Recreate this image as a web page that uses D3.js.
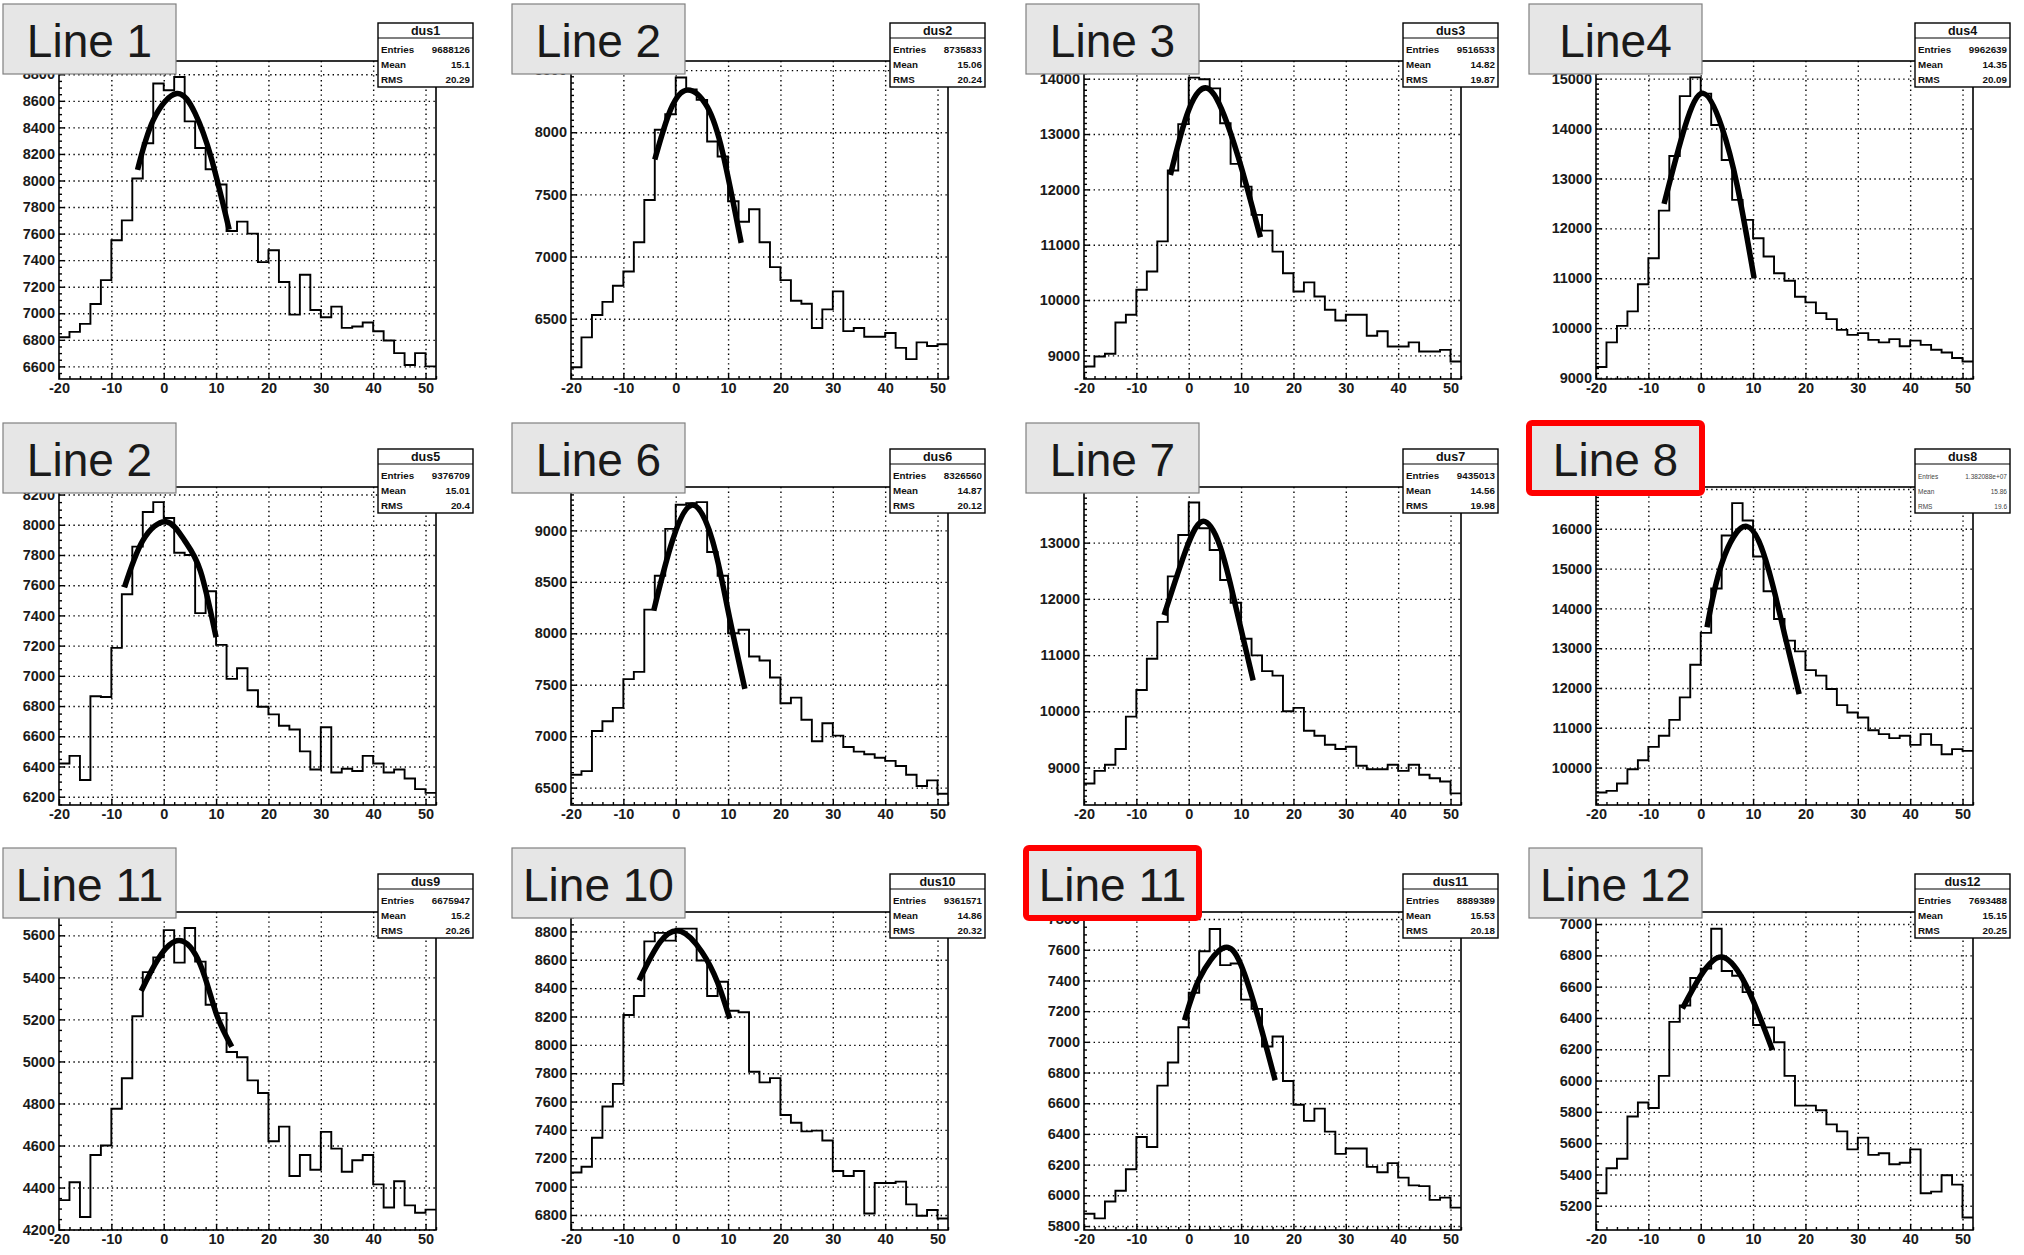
<!DOCTYPE html>
<html lang="en">
<head>
<meta charset="utf-8">
<title>dus histograms</title>
<script src="https://d3js.org/d3.v7.min.js"></script>
<style>
  body { margin: 0; background: #fff; }
  svg { display: block; font-family: "Liberation Sans", Arial, Helvetica, sans-serif; }
  .frame { fill: none; stroke: #000; stroke-width: 1.6; }
  .grid line { stroke: #000; stroke-width: 1.4; stroke-dasharray: 1.4 3.4; }
  .grid .domain { display: none; }
  .axis .domain { display: none; }
  .axis line { stroke: #000; stroke-width: 1.4; }
  .axis text { font-size: 14.5px; font-weight: bold; fill: #1a1a1a; }
  .hist { fill: none; stroke: #000; stroke-width: 1.9; }
  .fit { fill: none; stroke: #000; stroke-width: 5.5; stroke-linecap: butt; }
  .stats rect { fill: #fff; stroke: #000; stroke-width: 1.4; }
  .stats line { stroke: #000; stroke-width: 1.2; }
  .stats .ttl { font-size: 12.5px; font-weight: bold; fill: #111; }
  .stats .row { font-size: 9.8px; font-weight: bold; fill: #111; }
  .stats.faint .row { font-size: 6.5px; font-weight: normal; fill: #444; }
  .lbl rect { fill: #e6e6e6; stroke: #808080; stroke-width: 1.2; }
  .lbl.hot rect { stroke: #ff0000; stroke-width: 6; }
  .lbl text { font-size: 46px; fill: #1a1a1a; text-anchor: middle; }
</style>
</head>
<body>
<script>
// left edge of each 2-unit bin
var binLow = [-20,-18,-16,-14,-12,-10,-8,-6,-4,-2,0,2,4,6,8,10,12,14,16,18,20,22,24,26,28,30,32,34,36,38,40,42,44,46,48,50];

// bin contents
var dus1 = [6820,6860,6920,7070,7250,7550,7700,8015,8280,8730,8680,8780,8445,8245,8085,7970,7620,7690,7600,7385,7475,7235,6990,7290,7025,6970,7050,6890,6900,6930,6865,6795,6700,6610,6700,6600];
var dus2 = [6110,6350,6530,6635,6765,6880,7115,7455,8020,8145,8440,8345,8260,7925,7805,7445,7280,7380,7115,6915,6810,6645,6620,6425,6575,6720,6400,6425,6355,6355,6385,6265,6175,6310,6280,6295];
var dus3 = [8800,8980,9030,9595,9735,10185,10515,11060,12340,13180,14020,13990,13825,13195,12460,12050,11540,11255,10875,10485,10155,10320,10065,9825,9630,9735,9735,9355,9435,9160,9160,9235,9070,9070,9100,8890];
var dus4 = [9220,9715,10045,10335,10880,11400,12355,13450,14650,15025,14700,14070,13370,12570,12170,11800,11435,11100,10950,10630,10515,10300,10180,9965,9865,9900,9765,9715,9780,9635,9750,9665,9565,9510,9400,9330];
var dus5 = [6420,6470,6310,6865,6860,7185,7540,7855,8085,8150,8045,7815,7800,7415,7560,7205,6980,7050,6905,6795,6745,6670,6645,6500,6380,6660,6360,6385,6370,6470,6420,6360,6380,6320,6250,6225];
var dus6 = [6625,6660,7050,7145,7275,7555,7625,8230,8560,9015,9250,9265,9275,8790,8560,8000,8035,7775,7735,7570,7320,7375,7160,6950,7125,7005,6895,6850,6825,6790,6760,6710,6625,6515,6570,6440];
var dus7 = [8715,8940,9050,9330,9905,10380,10935,11590,12400,13135,13715,13255,12870,12335,11930,11290,10995,10715,10635,10000,10060,9655,9565,9405,9330,9370,9030,8970,8970,9050,8940,9050,8870,8810,8750,8540];
var dus8 = [9375,9415,9600,9960,10185,10520,10800,11200,11765,12585,13385,14500,15830,16645,16210,15305,14430,13735,13190,12920,12450,12310,11975,11570,11385,11260,10940,10840,10740,10800,10570,10840,10570,10335,10465,10420];
var dus9 = [4340,4425,4260,4555,4600,4775,4920,5215,5425,5495,5625,5470,5635,5475,5270,5230,5045,5020,4910,4850,4620,4690,4455,4555,4485,4665,4585,4475,4530,4555,4415,4305,4430,4315,4280,4295];
var dus10 = [7100,7140,7345,7565,7725,8210,8345,8730,8790,8735,8820,8820,8595,8345,8445,8240,8230,7810,7735,7765,7505,7450,7390,7395,7325,7110,7075,7110,6810,7025,7025,7035,6875,6795,6835,6775];
var dus11 = [5880,5850,5960,6030,6170,6380,6315,6715,6865,7095,7320,7590,7735,7500,7510,7275,7215,6970,7035,6745,6590,6485,6565,6415,6270,6305,6305,6185,6150,6210,6115,6065,6060,5970,5985,5920];
var dus12 = [5280,5440,5500,5770,5860,5825,6030,6375,6480,6655,6715,6970,6700,6670,6565,6355,6340,6245,6030,5840,5840,5810,5720,5675,5560,5635,5525,5535,5465,5475,5560,5280,5290,5395,5335,5125];

// points [x, count]
var fit1 = [[-5,8080],[-2,8455],[2.5,8655],[6,8505],[9,8180],[12.5,7630]];
var fit2 = [[-4,7780],[-1,8180],[2.3,8340],[6,8205],[9,7830],[12.5,7110]];
var fit3 = [[-3.5,12260],[0,13435],[4,13805],[8,13015],[11,12080],[13.7,11135]];
var fit4 = [[-7,12490],[-3,14040],[0.5,14705],[4,14040],[7,12840],[10.2,11000]];
var fit5 = [[-7.5,7585],[-4,7895],[0.5,8020],[4,7895],[7,7695],[10,7255]];
var fit6 = [[-4.2,8220],[-1,8840],[3,9245],[7,8905],[10,8220],[13.2,7460]];
var fit7 = [[-4.7,11710],[-1,12750],[2.5,13375],[6,12930],[9,11855],[12.3,10550]];
var fit8 = [[1.2,13525],[4,15120],[8.8,16060],[13,14950],[16,13355],[18.8,11845]];
var fit9 = [[-4.3,5335],[-1,5490],[3,5575],[7,5460],[10,5230],[13,5070]];
var fit10 = [[-7,8455],[-3,8725],[1,8800],[5,8655],[8,8440],[10.3,8185]];
var fit11 = [[-0.8,7140],[2,7410],[6.5,7610],[10,7500],[13.5,7130],[16.5,6750]];
var fit12 = [[-3.5,6460],[0,6670],[4,6790],[8,6650],[11,6430],[13.7,6195]];

// y axis ranges and label steps
var yLo = [6505,6015,8573,8980,6145,6331,8333,9060,4198,6694,5774,5045];
var yHi = [8900,8573,14320,15354,8250,9422,13990,17050,5711,8937,7846,7077];
var yStep = [200,500,1000,1000,200,500,1000,1000,200,200,200,200];

// titles and stat boxes
var titles = ["Line 1","Line 2","Line 3","Line4","Line 2","Line 6","Line 7","Line 8","Line 11","Line 10","Line 11","Line 12"];
var marked = [false,false,false,false,false,false,false,true,false,false,true,false];
var statName = ["dus1","dus2","dus3","dus4","dus5","dus6","dus7","dus8","dus9","dus10","dus11","dus12"];
var entries = ["9688126","8735833","9516533","9962639","9376709","8326560","9435013","1.382088e+07","6675947","9361571","8889389","7693488"];
var means = ["15.1","15.06","14.82","14.35","15.01","14.87","14.56","15.86","15.2","14.86","15.53","15.15"];
var rmsVals = ["20.29","20.24","19.87","20.09","20.4","20.12","19.98","19.6","20.26","20.32","20.18","20.25"];
var xLabels = [-20,-10,0,10,20,30,40,50];

var counts = [dus1,dus2,dus3,dus4,dus5,dus6,dus7,dus8,dus9,dus10,dus11,dus12];
var fits = [fit1,fit2,fit3,fit4,fit5,fit6,fit7,fit8,fit9,fit10,fit11,fit12];

var W = 377, H = 318;
var colX = [59, 571, 1084, 1596], rowY = [61, 487, 912];
var boxX = [3, 512, 1026, 1529], boxY = [4, 423, 848];

var svg = d3.select("body").append("svg")
    .attr("width", 2024)
    .attr("height", 1255);

var x = d3.scaleLinear().domain([-20, 52]).range([0, W]);
var xMinor = binLow.filter(function(b) { return b % 10 !== 0; }).concat([52]);

counts.forEach(function(vals, i) {
  var c = i % 4, r = Math.floor(i / 4);
  var y = d3.scaleLinear().domain([yLo[i], yHi[i]]).range([H, 0]);
  var step = yStep[i], minStep = step === 200 ? 50 : step / 10;
  var yMajor = d3.range(Math.ceil(yLo[i] / step) * step, yHi[i], step);
  var yMinor = d3.range(Math.ceil(yLo[i] / minStep) * minStep, yHi[i], minStep)
      .filter(function(v) { return v % step !== 0; });

  var g = svg.append("g").attr("transform", "translate(" + colX[c] + "," + rowY[r] + ")");

  g.append("clipPath").attr("id", "clip" + i)
    .append("rect").attr("width", W).attr("height", H);

  // dotted grid
  g.append("g").attr("class", "grid")
      .attr("transform", "translate(0," + H + ")")
      .call(d3.axisBottom(x).tickValues(xLabels.slice(1)).tickSize(-H).tickFormat(""));
  g.append("g").attr("class", "grid")
      .call(d3.axisLeft(y).tickValues(yMajor).tickSize(-W).tickFormat(""));

  // histogram and fit
  var pts = binLow.map(function(b, k) { return [b, vals[k]]; });
  pts.push([52, vals[vals.length - 1]]);
  var step_line = d3.line()
      .x(function(d) { return x(d[0]); })
      .y(function(d) { return y(d[1]); })
      .curve(d3.curveStepAfter);
  g.append("path").attr("class", "hist")
      .attr("clip-path", "url(#clip" + i + ")")
      .attr("d", step_line(pts));

  var fitLine = d3.line()
      .x(function(d) { return x(d[0]); })
      .y(function(d) { return y(d[1]); })
      .curve(d3.curveNatural);
  g.append("path").attr("class", "fit").attr("d", fitLine(fits[i]));

  // axes, ticks pointing inwards like ROOT
  g.append("g").attr("class", "axis")
      .attr("transform", "translate(0," + H + ")")
      .call(d3.axisBottom(x).tickValues(xLabels).tickSizeInner(-6).tickSizeOuter(0)
        .tickPadding(4).tickFormat(function(d) { return String(d); }));
  g.append("g").attr("class", "axis")
      .attr("transform", "translate(0," + H + ")")
      .call(d3.axisBottom(x).tickValues(xMinor).tickSizeInner(-3).tickSizeOuter(0).tickFormat(""));
  g.append("g").attr("class", "axis")
      .call(d3.axisLeft(y).tickValues(yMajor).tickSizeInner(-6).tickSizeOuter(0)
        .tickPadding(4).tickFormat(d3.format("d")));
  g.append("g").attr("class", "axis")
      .call(d3.axisLeft(y).tickValues(yMinor).tickSizeInner(-3).tickSizeOuter(0).tickFormat(""));

  g.append("rect").attr("class", "frame").attr("width", W).attr("height", H);

  // stat box
  var s = g.append("g")
      .attr("class", "stats" + (entries[i].length > 8 ? " faint" : ""))
      .attr("transform", "translate(" + (W - 58) + ",-38)");
  s.append("rect").attr("width", 95).attr("height", 64);
  s.append("line").attr("x1", 0).attr("x2", 95).attr("y1", 15).attr("y2", 15);
  s.append("text").attr("class", "ttl").attr("x", 47.5).attr("y", 12)
      .attr("text-anchor", "middle").text(statName[i]);
  var rows = [["Entries", entries[i]], ["Mean", means[i]], ["RMS", rmsVals[i]]];
  rows.forEach(function(row, k) {
    var yy = 30 + k * 15;
    s.append("text").attr("class", "row").attr("x", 3).attr("y", yy).text(row[0]);
    s.append("text").attr("class", "row").attr("x", 92).attr("y", yy)
        .attr("text-anchor", "end").text(row[1]);
  });
});

// title boxes on top of everything
titles.forEach(function(t, i) {
  var c = i % 4, r = Math.floor(i / 4);
  var b = svg.append("g")
      .attr("class", "lbl" + (marked[i] ? " hot" : ""))
      .attr("transform", "translate(" + boxX[c] + "," + boxY[r] + ")");
  b.append("rect").attr("width", 173).attr("height", 70).attr("rx", marked[i] ? 3 : 0);
  b.append("text").attr("x", 86.5).attr("y", 53).text(t);
});
</script>
</body>
</html>
